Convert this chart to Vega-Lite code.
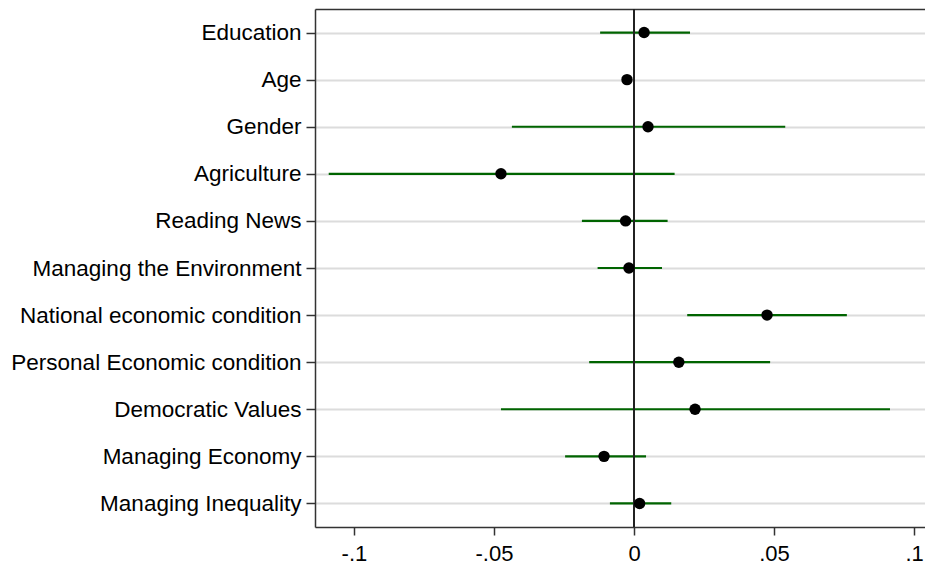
{
  "$schema": "https://vega.github.io/schema/vega-lite/v6.json",
  "autosize": {"type": "none"},
  "width": 610,
  "height": 518,
  "padding": {"left": 315, "top": 9, "right": 0, "bottom": 41},
  "background": "white",
  "config": {
    "view": {"stroke": null},
    "font": "Liberation Sans",
    "axis": {"labelFont": "Liberation Sans", "labelColor": "#000000"}
  },
  "data": {
    "values": [
      {"variable": "Education", "coef": 0.0036, "lo": -0.0121, "hi": 0.0200},
      {"variable": "Age", "coef": -0.0025, "lo": -0.0030, "hi": -0.0020},
      {"variable": "Gender", "coef": 0.0050, "lo": -0.0436, "hi": 0.0540},
      {"variable": "Agriculture", "coef": -0.0475, "lo": -0.1090, "hi": 0.0145},
      {"variable": "Reading News", "coef": -0.0030, "lo": -0.0186, "hi": 0.0120},
      {"variable": "Managing the Environment", "coef": -0.0018, "lo": -0.0130, "hi": 0.0100},
      {"variable": "National economic condition", "coef": 0.0475, "lo": 0.0190, "hi": 0.0760},
      {"variable": "Personal Economic condition", "coef": 0.0160, "lo": -0.0160, "hi": 0.0486},
      {"variable": "Democratic Values", "coef": 0.0218, "lo": -0.0475, "hi": 0.0914},
      {"variable": "Managing Economy", "coef": -0.0107, "lo": -0.0246, "hi": 0.0043},
      {"variable": "Managing Inequality", "coef": 0.0020, "lo": -0.0086, "hi": 0.0133}
    ]
  },
  "resolve": {"axis": {"x": "independent"}},
  "layer": [
    {
      "mark": {"type": "rule", "strokeWidth": 2.2, "color": "#006400"},
      "encoding": {
        "y": {
          "field": "variable", "type": "nominal", "sort": null, "title": null,
          "scale": {"type": "point", "padding": 0.5},
          "axis": {
            "grid": true, "gridColor": "#dcdcdc", "gridWidth": 2,
            "domainColor": "#333333", "domainWidth": 1.5,
            "tickColor": "#333333", "tickSize": 9, "tickWidth": 1.5,
            "labelFontSize": 22.5, "labelPadding": 5, "labelLimit": 400
          }
        },
        "x": {
          "field": "lo", "type": "quantitative", "title": null,
          "scale": {"domain": [-0.1139, 0.1039], "nice": false, "zero": false},
          "axis": {
            "values": [-0.1, -0.05, 0, 0.05, 0.1],
            "labelExpr": "datum.value < -0.07 ? '-.1' : datum.value < -0.02 ? '-.05' : datum.value < 0.02 ? '0' : datum.value < 0.07 ? '.05' : '.1'",
            "grid": false,
            "domainColor": "#333333", "domainWidth": 1.5,
            "tickColor": "#333333", "tickSize": 8, "tickWidth": 1.5,
            "labelFontSize": 22, "labelPadding": 8
          }
        },
        "x2": {"field": "hi"}
      }
    },
    {
      "mark": {"type": "rule", "strokeWidth": 1.2, "color": "#222222"},
      "encoding": {
        "x": {
          "datum": 0, "type": "quantitative",
          "axis": {
            "orient": "top", "labels": false, "ticks": false, "grid": false,
            "domainColor": "#333333", "domainWidth": 1.5, "title": null
          }
        }
      }
    },
    {
      "mark": {"type": "point", "filled": true, "size": 130, "color": "#000000", "opacity": 1},
      "encoding": {
        "y": {"field": "variable", "type": "nominal", "sort": null},
        "x": {"field": "coef", "type": "quantitative", "axis": null}
      }
    }
  ]
}
